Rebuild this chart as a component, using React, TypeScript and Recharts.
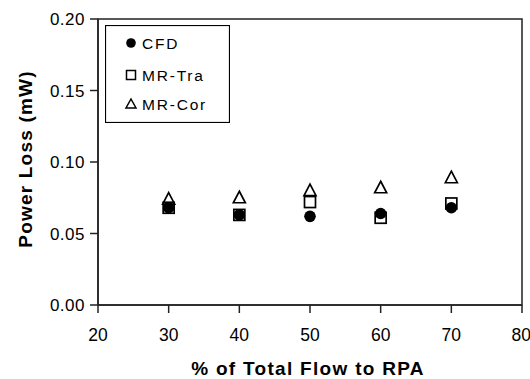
import { ScatterChart, Scatter, XAxis, YAxis, ReferenceArea } from "recharts";

const flowPct = [30, 40, 50, 60, 70];
const cfd = [0.068, 0.063, 0.062, 0.064, 0.068];
const mrTra = [0.068, 0.063, 0.072, 0.061, 0.071];
const mrCor = [0.074, 0.075, 0.080, 0.082, 0.089];

const xTicks = [20, 30, 40, 50, 60, 70, 80];
const yTicks = [0, 0.05, 0.1, 0.15, 0.2];

const toPoints = (vals: number[]) => flowPct.map((x, i) => ({ x, y: vals[i] }));

const FONT = "'Liberation Sans', Arial, sans-serif";

const Circle = (p: any) => <circle cx={p.cx} cy={p.cy} r={5.8} fill="#000" />;
const Square = (p: any) => (
  <rect x={p.cx - 5.5} y={p.cy - 5.5} width={11} height={11} fill="none" stroke="#000" strokeWidth={1.7} />
);
const Triangle = (p: any) => (
  <path
    d={`M${p.cx},${p.cy - 6.5} L${p.cx + 6},${p.cy + 5} L${p.cx - 6},${p.cy + 5} Z`}
    fill="none"
    stroke="#000"
    strokeWidth={1.7}
  />
);

const legendItems = [
  { name: "CFD", y: 18, icon: (cx: number, cy: number) => <circle cx={cx} cy={cy} r={4.8} fill="#000" /> },
  {
    name: "MR-Tra",
    y: 50,
    icon: (cx: number, cy: number) => <rect x={cx - 4.5} y={cy - 4.5} width={9} height={9} fill="none" stroke="#000" strokeWidth={1.5} />,
  },
  {
    name: "MR-Cor",
    y: 79,
    icon: (cx: number, cy: number) => (
      <path d={`M${cx},${cy - 5} L${cx + 5},${cy + 4} L${cx - 5},${cy + 4} Z`} fill="none" stroke="#000" strokeWidth={1.5} />
    ),
  },
];

const LegendBox = () => (
  <svg width={125} height={98} style={{ display: "block" }}>
    <rect x={0.5} y={0.5} width={124} height={97} fill="#fff" stroke="#000" strokeWidth={1.2} />
    {legendItems.map((it) => (
      <g key={it.name}>
        {it.icon(26, it.y)}
        <text x={37} y={it.y} dy="0.36em" fontSize={15.5} letterSpacing={1.8} fontFamily={FONT} fill="#000">
          {it.name}
        </text>
      </g>
    ))}
  </svg>
);

const YLabel = () => (
  <text
    x={25}
    y={159}
    transform="rotate(-90, 25, 159)"
    textAnchor="middle"
    dominantBaseline="central"
    fontSize={19}
    letterSpacing={1.2}
    fontWeight="bold"
    fontFamily={FONT}
    fill="#000"
  >
    Power Loss (mW)
  </text>
);

const XLabel = () => (
  <text x={308} y={375} textAnchor="middle" fontSize={19} letterSpacing={1.3} fontWeight="bold" fontFamily={FONT} fill="#000">
    % of Total Flow to RPA
  </text>
);

export default function App() {
  const xTick = { fontSize: 17.5, fontFamily: FONT, fill: "#000" };
  const yTick = { fontSize: 17, letterSpacing: 0.5, fontFamily: FONT, fill: "#000" };
  return (
    <div style={{ position: "absolute", left: 0, top: 0, width: 530, height: 379, background: "#fff" }}>
      <ScatterChart width={530} height={379} margin={{ top: 19, right: 8, bottom: 0, left: 0 }}>
        <XAxis
          type="number"
          dataKey="x"
          domain={[20, 80]}
          ticks={xTicks}
          tick={xTick}
          tickSize={8}
          tickMargin={16}
          stroke="#222"
          strokeWidth={1.5}
          label={<XLabel />}
          height={74}
        />
        <YAxis
          type="number"
          dataKey="y"
          domain={[0, 0.2]}
          ticks={yTicks}
          tickFormatter={(v: number) => v.toFixed(2)}
          tick={yTick}
          tickSize={8}
          tickMargin={5}
          stroke="#222"
          strokeWidth={1.5}
          width={98}
          label={<YLabel />}
        />
        <ReferenceArea x1={20} x2={80} y1={0} y2={0.2} fill="none" stroke="#222" strokeWidth={1.5} strokeOpacity={1} ifOverflow="visible" />
        <Scatter name="MR-Cor" data={toPoints(mrCor)} shape={<Triangle />} isAnimationActive={false} />
        <Scatter name="MR-Tra" data={toPoints(mrTra)} shape={<Square />} isAnimationActive={false} />
        <Scatter name="CFD" data={toPoints(cfd)} shape={<Circle />} isAnimationActive={false} />
      </ScatterChart>
      <div style={{ position: "absolute", left: 105, top: 25 }}>
        <LegendBox />
      </div>
    </div>
  );
}
